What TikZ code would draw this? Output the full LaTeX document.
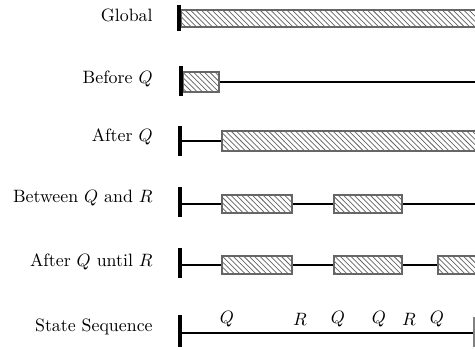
\documentclass[tikz,border=0pt]{standalone}
\usepackage{amsmath}
\usepackage{tikz}
\usetikzlibrary{patterns}

\tikzset{
  scopebox/.style={draw=black!60, line width=0.6pt, preaction={fill=white}, pattern=north west lines, pattern color=black!60},
  timeline/.style={line width=1.5pt},
  starttick/.style={line width=1.8pt},
  rowlabel/.style={anchor=east, inner sep=0pt},
  event/.style={inner sep=0pt}
}

\begin{document}
\begin{tikzpicture}[x=0.56pt, y=-0.56pt]
\useasboundingbox (0,0) rectangle (475,350);
\begin{scope}
\clip (0,0) rectangle (475,350);

% labels
\node[rowlabel] (lglobal) at (153,15) {Global};
\node[rowlabel] (lbefore) at (153,79) {Before $Q$};
\node[rowlabel] (lafter) at (153,137) {After $Q$};
\node[rowlabel] (lbetween) at (153,198) {Between $Q$ and $R$};
\node[rowlabel] (luntil) at (153,262) {After $Q$ until $R$};
\node[rowlabel] (lseq) at (153,327) {State Sequence};

% global
\draw[scopebox] (181,10) rectangle (480,27);
\draw[starttick] (179,5) -- (179,31);

% before Q
\draw[timeline] (219,82) -- (480,82);
\draw[scopebox] (183,72) rectangle (219,92);
\draw[starttick] (181,66) -- (181,96);

% after Q
\draw[timeline] (180,141) -- (222,141);
\draw[scopebox] (222,131) rectangle (480,151);
\draw[starttick] (180,126) -- (180,156);

% between Q and R
\draw[timeline] (180,204) -- (480,204);
\draw[scopebox] (222,195) rectangle (292,213);
\draw[scopebox] (334,195) rectangle (402,213);
\draw[starttick] (180,187) -- (180,217);

% after Q until R
\draw[timeline] (180,265) -- (480,265);
\draw[scopebox] (222,256) rectangle (292,274);
\draw[scopebox] (334,256) rectangle (402,274);
\draw[scopebox] (438,256) rectangle (490,274);
\draw[starttick] (180,248) -- (180,278);

% state sequence
\draw[timeline] (180,333) -- (480,333);
\draw[starttick] (180,315) -- (180,347);
\draw[black!50, line width=0.6pt] (474,317) -- (474,347);
\node[event] (q1) at (227,319) {$Q$};
\node[event] (r1) at (300,319) {$R$};
\node[event] (q2) at (338,319) {$Q$};
\node[event] (q3) at (379,319) {$Q$};
\node[event] (r2) at (409,319) {$R$};
\node[event] (q4) at (437,319) {$Q$};
\end{scope}
\end{tikzpicture}
\end{document}
